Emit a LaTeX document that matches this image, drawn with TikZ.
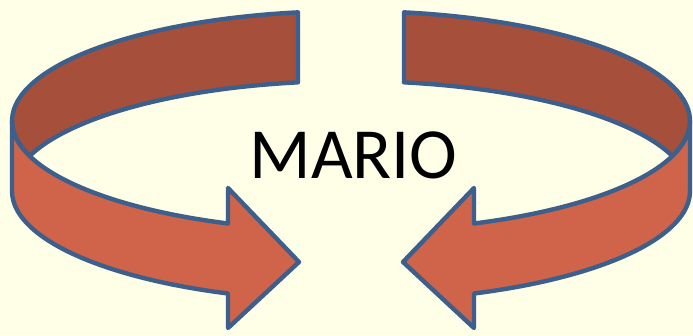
\documentclass[tikz,border=0pt]{standalone}
\usepackage{fontspec}
\setmainfont{Carlito}
\usetikzlibrary{positioning, calc}

\definecolor{paper}{RGB}{255,255,232}
\definecolor{backred}{RGB}{166,80,60}
\definecolor{frontred}{RGB}{207,100,74}
\definecolor{rim}{RGB}{60,95,140}

% one curled arrow, tail at the back, head at the front
\newcommand{\curlarrow}{%
    \filldraw[backband] ([shift={(99:339 and 110)}]351,214)
        arc[start angle=99, end angle=198.55, x radius=339, y radius=110]
        -- ([shift={(161.45:339 and 110)}]351,144)
        arc[start angle=161.45, end angle=99, x radius=339, y radius=110] -- cycle;
    \filldraw[frontband] ([shift={(180:339 and 110)}]351,214)
        -- ([shift={(180:339 and 110)}]351,144)
        arc[start angle=180, end angle=248.73, x radius=339, y radius=110]
        -- (228,7) -- (299,73) -- (228,147)
        -- ([shift={(248.73:339 and 110)}]351,214)
        arc[start angle=248.73, end angle=180, x radius=339, y radius=110] -- cycle;
}

\begin{document}
\begin{tikzpicture}[x=1pt, y=1pt,
    backband/.style={fill=backred, draw=rim, line width=4.4pt, line join=round},
    frontband/.style={fill=frontred, draw=rim, line width=4.4pt, line join=round}]
    \fill[paper] (0,0) rectangle (693,335);
    \useasboundingbox (0,0) rectangle (693,335);
    \curlarrow
    \begin{scope}[xshift=702pt, xscale=-1]
        \curlarrow
    \end{scope}
    \node[font=\fontsize{72}{80}\selectfont, anchor=base, inner sep=0pt] (mario) at (353.5,157) {MARIO};
\end{tikzpicture}
\end{document}
